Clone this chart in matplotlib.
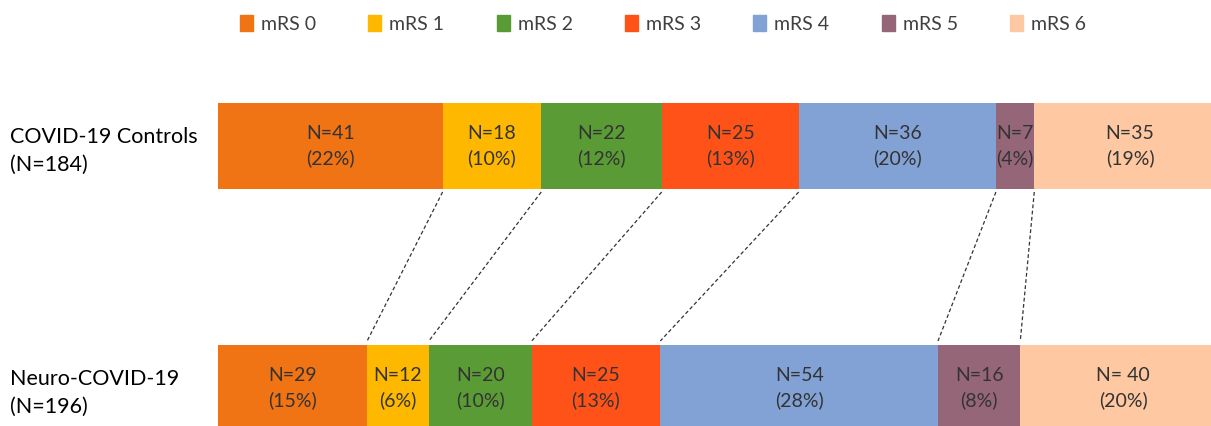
import matplotlib.pyplot as plt
import numpy as np

# mRS outcome counts per cohort
categories = ['mRS 0', 'mRS 1', 'mRS 2', 'mRS 3', 'mRS 4', 'mRS 5', 'mRS 6']
colors = ['#F07314', '#FFB800', '#5A9B36', '#FF5219', '#82A2D6', '#956677', '#FDC8A2']

groups = ['COVID-19 Controls\n(N=184)', 'Neuro-COVID-19\n(N=196)']
controls_n = [41, 18, 22, 25, 36, 7, 35]
neuro_n = [29, 12, 20, 25, 54, 16, 40]
controls_pct = ['22%', '10%', '12%', '13%', '20%', '4%', '19%']
neuro_pct = ['15%', '6%', '10%', '13%', '28%', '8%', '20%']
controls_lbl = ['N=41', 'N=18', 'N=22', 'N=25', 'N=36', 'N=7', 'N=35']
neuro_lbl = ['N=29', 'N=12', 'N=20', 'N=25', 'N=54', 'N=16', 'N= 40']

plt.rcParams['font.family'] = ['Lato', 'DejaVu Sans']

W, H = 1211, 426
fig = plt.figure(figsize=(W / 100, H / 100), dpi=100)
# axes in pixel-like y units; bars run a bit past the right edge
ax = fig.add_axes([218 / W, 0, 1008 / W, 1])
ax.set_xlim(0, 1)
ax.set_ylim(H, 0)
ax.axis('off')

rows = [
    (146, controls_n, controls_lbl, controls_pct),
    (388, neuro_n, neuro_lbl, neuro_pct),
]
bar_h = 86

edges = []
for yc, counts, lbls, pcts in rows:
    counts = np.array(counts, dtype=float)
    frac = counts / counts.sum()
    left = np.concatenate([[0], np.cumsum(frac)[:-1]])
    ax.barh(yc, frac, left=left, height=bar_h, color=colors, edgecolor='none')
    for l, f, a, b in zip(left, frac, lbls, pcts):
        ax.text(l + f / 2, yc, f'{a}\n({b})', ha='center', va='center',
                fontsize=14, color='#333333', linespacing=1.5)
    edges.append(np.cumsum(frac)[:-1])

# dashed connectors between matching category boundaries
top_y = 146 + bar_h / 2 + 3
bot_y = 388 - bar_h / 2 - 4
for xt, xb in zip(edges[0], edges[1]):
    ax.plot([xt, xb], [top_y, bot_y], color='#333333', lw=0.9,
            linestyle=(0, (3, 2)), clip_on=False)

for (yc, *_), name in zip(rows, groups):
    fig.text(10 / W, 1 - (yc + 5) / H, name, ha='left', va='center',
             fontsize=15.5, color='black', linespacing=1.5)

handles = [plt.Rectangle((0, 0), 1, 1, color=c) for c in colors]
fig.legend(handles, categories, loc='center', bbox_to_anchor=(663 / W, 1 - 24 / H),
           ncol=7, frameon=False, fontsize=14, handlelength=0.67, handleheight=0.85,
           handletextpad=0.42, columnspacing=2.68, labelcolor='#404040')

fig.savefig('out.png', dpi=100)
